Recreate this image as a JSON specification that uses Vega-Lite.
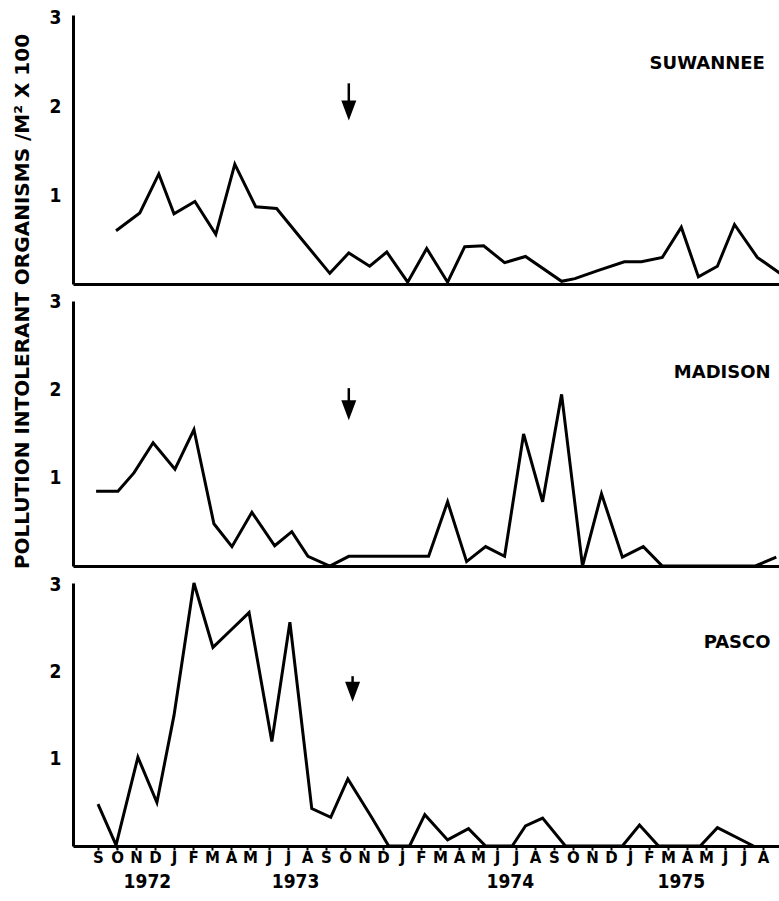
{
  "$schema": "https://vega.github.io/schema/vega-lite/v6.json",
  "background": "white",
  "autosize": {"type": "pad"},
  "padding": {"left": 11, "top": 8, "right": 0, "bottom": 0},
  "bounds": "flush",
  "spacing": 17,
  "config": {
    "view": {"stroke": null},
    "axis": {"grid": false, "domainColor": "black", "domainWidth": 3, "labelColor": "black", "ticks": false}
  },
  "datasets": {
    "series": [
      {"site": "SUWANNEE", "m": 0.95, "v": 0.60},
      {"site": "SUWANNEE", "m": 2.2, "v": 0.80},
      {"site": "SUWANNEE", "m": 3.2, "v": 1.24},
      {"site": "SUWANNEE", "m": 4.0, "v": 0.79},
      {"site": "SUWANNEE", "m": 5.1, "v": 0.93},
      {"site": "SUWANNEE", "m": 6.2, "v": 0.56},
      {"site": "SUWANNEE", "m": 7.2, "v": 1.35},
      {"site": "SUWANNEE", "m": 8.3, "v": 0.87},
      {"site": "SUWANNEE", "m": 9.4, "v": 0.85},
      {"site": "SUWANNEE", "m": 10.7, "v": 0.51},
      {"site": "SUWANNEE", "m": 12.2, "v": 0.12},
      {"site": "SUWANNEE", "m": 13.2, "v": 0.35},
      {"site": "SUWANNEE", "m": 14.3, "v": 0.20},
      {"site": "SUWANNEE", "m": 15.2, "v": 0.36},
      {"site": "SUWANNEE", "m": 16.3, "v": 0.02},
      {"site": "SUWANNEE", "m": 17.3, "v": 0.40},
      {"site": "SUWANNEE", "m": 18.4, "v": 0.02},
      {"site": "SUWANNEE", "m": 19.3, "v": 0.42},
      {"site": "SUWANNEE", "m": 20.3, "v": 0.43},
      {"site": "SUWANNEE", "m": 21.4, "v": 0.24},
      {"site": "SUWANNEE", "m": 22.5, "v": 0.31},
      {"site": "SUWANNEE", "m": 24.4, "v": 0.03},
      {"site": "SUWANNEE", "m": 25.1, "v": 0.06},
      {"site": "SUWANNEE", "m": 26.3, "v": 0.15},
      {"site": "SUWANNEE", "m": 27.7, "v": 0.25},
      {"site": "SUWANNEE", "m": 28.6, "v": 0.25},
      {"site": "SUWANNEE", "m": 29.7, "v": 0.30},
      {"site": "SUWANNEE", "m": 30.7, "v": 0.64},
      {"site": "SUWANNEE", "m": 31.6, "v": 0.08},
      {"site": "SUWANNEE", "m": 32.6, "v": 0.20},
      {"site": "SUWANNEE", "m": 33.5, "v": 0.67},
      {"site": "SUWANNEE", "m": 34.7, "v": 0.30},
      {"site": "SUWANNEE", "m": 35.9, "v": 0.12},
      {"site": "MADISON", "m": -0.1, "v": 0.85},
      {"site": "MADISON", "m": 1.05, "v": 0.85},
      {"site": "MADISON", "m": 1.9, "v": 1.06},
      {"site": "MADISON", "m": 2.9, "v": 1.40},
      {"site": "MADISON", "m": 4.05, "v": 1.10},
      {"site": "MADISON", "m": 5.05, "v": 1.55},
      {"site": "MADISON", "m": 6.1, "v": 0.48},
      {"site": "MADISON", "m": 7.05, "v": 0.22},
      {"site": "MADISON", "m": 8.1, "v": 0.61},
      {"site": "MADISON", "m": 9.3, "v": 0.23},
      {"site": "MADISON", "m": 10.2, "v": 0.39},
      {"site": "MADISON", "m": 11.05, "v": 0.11},
      {"site": "MADISON", "m": 12.2, "v": 0.0},
      {"site": "MADISON", "m": 13.2, "v": 0.11},
      {"site": "MADISON", "m": 14.3, "v": 0.11},
      {"site": "MADISON", "m": 15.3, "v": 0.11},
      {"site": "MADISON", "m": 16.4, "v": 0.11},
      {"site": "MADISON", "m": 17.4, "v": 0.11},
      {"site": "MADISON", "m": 18.4, "v": 0.73},
      {"site": "MADISON", "m": 19.4, "v": 0.05},
      {"site": "MADISON", "m": 20.4, "v": 0.22},
      {"site": "MADISON", "m": 21.4, "v": 0.11},
      {"site": "MADISON", "m": 22.4, "v": 1.50},
      {"site": "MADISON", "m": 23.4, "v": 0.73},
      {"site": "MADISON", "m": 24.4, "v": 1.95},
      {"site": "MADISON", "m": 25.5, "v": 0.0},
      {"site": "MADISON", "m": 26.5, "v": 0.82},
      {"site": "MADISON", "m": 27.6, "v": 0.10},
      {"site": "MADISON", "m": 28.7, "v": 0.22},
      {"site": "MADISON", "m": 29.7, "v": 0.0},
      {"site": "MADISON", "m": 30.7, "v": 0.0},
      {"site": "MADISON", "m": 31.7, "v": 0.0},
      {"site": "MADISON", "m": 32.7, "v": 0.0},
      {"site": "MADISON", "m": 33.7, "v": 0.0},
      {"site": "MADISON", "m": 34.6, "v": 0.0},
      {"site": "MADISON", "m": 35.7, "v": 0.10},
      {"site": "PASCO", "m": 0.0, "v": 0.48},
      {"site": "PASCO", "m": 0.95, "v": 0.01},
      {"site": "PASCO", "m": 2.1, "v": 1.02},
      {"site": "PASCO", "m": 3.1, "v": 0.50},
      {"site": "PASCO", "m": 4.0, "v": 1.50},
      {"site": "PASCO", "m": 5.05, "v": 3.02},
      {"site": "PASCO", "m": 6.05, "v": 2.28},
      {"site": "PASCO", "m": 7.0, "v": 2.48},
      {"site": "PASCO", "m": 7.95, "v": 2.68},
      {"site": "PASCO", "m": 9.15, "v": 1.20},
      {"site": "PASCO", "m": 10.1, "v": 2.57},
      {"site": "PASCO", "m": 11.25, "v": 0.43},
      {"site": "PASCO", "m": 12.25, "v": 0.33},
      {"site": "PASCO", "m": 13.15, "v": 0.77},
      {"site": "PASCO", "m": 14.4, "v": 0.33},
      {"site": "PASCO", "m": 15.3, "v": 0.0},
      {"site": "PASCO", "m": 16.4, "v": 0.0},
      {"site": "PASCO", "m": 17.2, "v": 0.36},
      {"site": "PASCO", "m": 18.4, "v": 0.07},
      {"site": "PASCO", "m": 19.5, "v": 0.20},
      {"site": "PASCO", "m": 20.4, "v": 0.0},
      {"site": "PASCO", "m": 21.8, "v": 0.0},
      {"site": "PASCO", "m": 22.5, "v": 0.23},
      {"site": "PASCO", "m": 23.4, "v": 0.32},
      {"site": "PASCO", "m": 24.6, "v": 0.0},
      {"site": "PASCO", "m": 25.6, "v": 0.0},
      {"site": "PASCO", "m": 26.6, "v": 0.0},
      {"site": "PASCO", "m": 27.6, "v": 0.0},
      {"site": "PASCO", "m": 28.5, "v": 0.24},
      {"site": "PASCO", "m": 29.5, "v": 0.0},
      {"site": "PASCO", "m": 30.6, "v": 0.0},
      {"site": "PASCO", "m": 31.7, "v": 0.0},
      {"site": "PASCO", "m": 32.6, "v": 0.21},
      {"site": "PASCO", "m": 34.5, "v": 0.0}
    ],
    "arrows": [
      {"site": "SUWANNEE", "m": 13.2, "v": 1.955, "top": 2.26},
      {"site": "MADISON", "m": 13.2, "v": 1.77, "top": 2.02},
      {"site": "PASCO", "m": 13.4, "v": 1.77, "top": 1.95}
    ],
    "names": [
      {"site": "SUWANNEE", "m": 35.1, "v": 2.48, "name": "SUWANNEE"},
      {"site": "MADISON", "m": 35.4, "v": 2.19, "name": "MADISON"},
      {"site": "PASCO", "m": 35.4, "v": 2.33, "name": "PASCO"}
    ],
    "years": [
      {"m": 2.6, "v": -0.414, "year": "1972"},
      {"m": 10.4, "v": -0.414, "year": "1973"},
      {"m": 21.7, "v": -0.414, "year": "1974"},
      {"m": 30.7, "v": -0.414, "year": "1975"}
    ]
  },
  "vconcat": [
    {
      "width": 707,
      "height": 269,
      "encoding": {
        "x": {"field": "m", "type": "quantitative", "scale": {"domain": [-1.316, 35.895], "nice": false, "zero": false},
              "axis": {"title": null, "labels": false, "ticks": false, "domainWidth": 3}},
        "y": {"field": "v", "type": "quantitative", "scale": {"domain": [0, 3.03], "nice": false},
              "axis": {"title": null, "values": [1, 2, 3], "labelFont": "DejaVu Sans Condensed, Roboto, sans-serif", "labelFontWeight": "bold", "labelFontSize": 19, "labelPadding": 12}}
      },
      "layer": [
        {"data": {"name": "series"}, "transform": [{"filter": "datum.site === 'SUWANNEE'"}],
         "mark": {"type": "line", "color": "black", "strokeWidth": 3, "clip": false}},
        {"data": {"name": "arrows"}, "transform": [{"filter": "datum.site === 'SUWANNEE'"}],
         "mark": {"type": "rule", "color": "black", "strokeWidth": 2.5},
         "encoding": {"y2": {"field": "top"}}},
        {"data": {"name": "arrows"}, "transform": [{"filter": "datum.site === 'SUWANNEE'"}],
         "mark": {"type": "point", "shape": "M-0.75,-1L0.75,-1L0,1Z", "filled": true, "color": "black", "opacity": 1, "size": 400}},
        {"data": {"name": "names"}, "transform": [{"filter": "datum.site === 'SUWANNEE'"}],
         "mark": {"type": "text", "align": "right", "baseline": "middle", "font": "DejaVu Sans", "fontWeight": "bold", "fontSize": 18, "color": "black"},
         "encoding": {"text": {"field": "name"}}}
      ]
    },
    {
      "width": 707,
      "height": 265,
      "encoding": {
        "x": {"field": "m", "type": "quantitative", "scale": {"domain": [-1.316, 35.895], "nice": false, "zero": false},
              "axis": {"title": null, "labels": false, "ticks": false, "domainWidth": 3}},
        "y": {"field": "v", "type": "quantitative", "scale": {"domain": [0, 3.01], "nice": false},
              "axis": {"title": "POLLUTION INTOLERANT ORGANISMS /M² X 100", "titleFont": "DejaVu Sans", "titleFontWeight": "bold", "titleFontSize": 20, "titleColor": "black",
                       "titleX": -51, "titleY": 0, "titleAngle": -90, "titleAlign": "center", "titleBaseline": "middle",
                       "values": [1, 2, 3], "labelFont": "DejaVu Sans Condensed, Roboto, sans-serif", "labelFontWeight": "bold", "labelFontSize": 19, "labelPadding": 12}}
      },
      "layer": [
        {"data": {"name": "series"}, "transform": [{"filter": "datum.site === 'MADISON'"}],
         "mark": {"type": "line", "color": "black", "strokeWidth": 3, "clip": false}},
        {"data": {"name": "arrows"}, "transform": [{"filter": "datum.site === 'MADISON'"}],
         "mark": {"type": "rule", "color": "black", "strokeWidth": 2.5},
         "encoding": {"y2": {"field": "top"}}},
        {"data": {"name": "arrows"}, "transform": [{"filter": "datum.site === 'MADISON'"}],
         "mark": {"type": "point", "shape": "M-0.75,-1L0.75,-1L0,1Z", "filled": true, "color": "black", "opacity": 1, "size": 400}},
        {"data": {"name": "names"}, "transform": [{"filter": "datum.site === 'MADISON'"}],
         "mark": {"type": "text", "align": "right", "baseline": "middle", "font": "DejaVu Sans", "fontWeight": "bold", "fontSize": 18, "color": "black"},
         "encoding": {"text": {"field": "name"}}}
      ]
    },
    {
      "width": 707,
      "height": 263,
      "encoding": {
        "x": {"field": "m", "type": "quantitative", "scale": {"domain": [-1.316, 35.895], "nice": false, "zero": false},
              "axis": {"title": null, "values": [0,1,2,3,4,5,6,7,8,9,10,11,12,13,14,15,16,17,18,19,20,21,22,23,24,25,26,27,28,29,30,31,32,33,34,35],
                       "labelExpr": "substring('SONDJFMAMJJA', datum.value % 12, datum.value % 12 + 1)",
                       "ticks": true, "tickSize": 4, "tickWidth": 2, "tickColor": "black", "domainWidth": 3,
                       "labelFont": "DejaVu Sans", "labelFontWeight": "bold", "labelFontSize": 15, "labelPadding": 0,
                       "labelOverlap": false, "labelFlush": false, "labelBound": false}},
        "y": {"field": "v", "type": "quantitative", "scale": {"domain": [0, 3.02], "nice": false},
              "axis": {"title": null, "values": [1, 2, 3], "labelFont": "DejaVu Sans Condensed, Roboto, sans-serif", "labelFontWeight": "bold", "labelFontSize": 19, "labelPadding": 12}}
      },
      "layer": [
        {"data": {"name": "series"}, "transform": [{"filter": "datum.site === 'PASCO'"}],
         "mark": {"type": "line", "color": "black", "strokeWidth": 3, "clip": false}},
        {"data": {"name": "arrows"}, "transform": [{"filter": "datum.site === 'PASCO'"}],
         "mark": {"type": "rule", "color": "black", "strokeWidth": 2.5},
         "encoding": {"y2": {"field": "top"}}},
        {"data": {"name": "arrows"}, "transform": [{"filter": "datum.site === 'PASCO'"}],
         "mark": {"type": "point", "shape": "M-0.75,-1L0.75,-1L0,1Z", "filled": true, "color": "black", "opacity": 1, "size": 400}},
        {"data": {"name": "names"}, "transform": [{"filter": "datum.site === 'PASCO'"}],
         "mark": {"type": "text", "align": "right", "baseline": "middle", "font": "DejaVu Sans", "fontWeight": "bold", "fontSize": 18, "color": "black"},
         "encoding": {"text": {"field": "name"}}},
        {"data": {"name": "years"},
         "mark": {"type": "text", "align": "center", "baseline": "middle", "font": "DejaVu Sans Condensed, Roboto, sans-serif", "fontWeight": "bold", "fontSize": 19, "color": "black"},
         "encoding": {"text": {"field": "year"}}}
      ]
    }
  ]
}
